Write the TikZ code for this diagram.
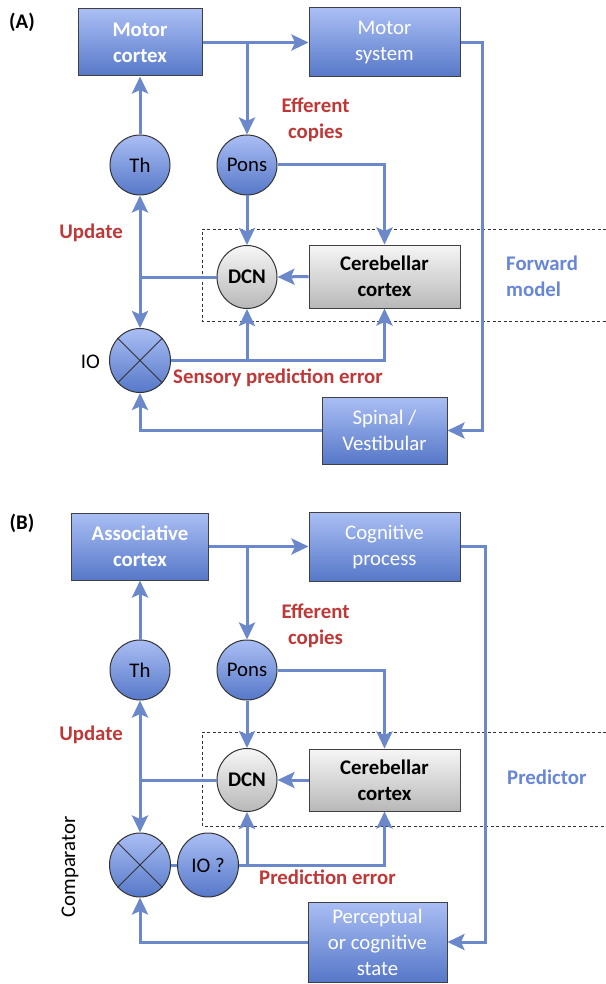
\documentclass[tikz,border=0pt]{standalone}
\usepackage{fontspec}
\setmainfont{Carlito}
\usetikzlibrary{arrows.meta,shapes.geometric}
\definecolor{boxtop}{RGB}{170,190,244}
\definecolor{boxbot}{RGB}{86,120,200}
\definecolor{greytop}{RGB}{246,246,246}
\definecolor{greybot}{RGB}{184,184,184}
\definecolor{wirecol}{RGB}{106,136,202}
\definecolor{errred}{RGB}{190,56,56}
\definecolor{fwdblue}{RGB}{104,134,214}
\newcommand{\bodyfont}{\fontsize{20.8}{26}\selectfont}
\newcommand{\modelframe}[2]{%
  \draw[black!80,line width=0.8pt,dash pattern=on 3pt off 2.5pt]
    (606,#1) -- (202,#1) -- (202,#2) -- (606,#2);
}

\begin{document}
\begin{tikzpicture}[x=1pt,y=-1pt,
  every node/.style={font=\bodyfont,inner sep=0pt},
  heavy/.style={font=\bodyfont\bfseries},
  bluebox/.style={rectangle,draw=black!75,line width=1pt,top color=boxtop,bottom color=boxbot,text=white,align=center},
  greybox/.style={rectangle,draw=black!75,line width=1pt,top color=greytop,bottom color=greybot,align=center,heavy},
  bluedot/.style={circle,draw=black!80,line width=1pt,top color=boxtop,bottom color=boxbot,minimum size=60pt},
  blueoval/.style={ellipse,draw=black!80,line width=1pt,top color=boxtop,bottom color=boxbot,minimum width=61pt,minimum height=64pt},
  greyoval/.style={ellipse,draw=black!80,line width=1pt,top color=greytop,bottom color=greybot,minimum width=60pt,minimum height=63pt,heavy},
  wireline/.style={draw=wirecol,line width=3pt},
  feed/.style={wireline,-{Stealth[length=17pt,width=16pt,inset=3.5pt]}},
  errlabel/.style={heavy,text=errred,align=center},
  modellabel/.style={heavy,text=fwdblue,align=left,anchor=west}
]
  \useasboundingbox (0,0) rectangle (605,984);
  \modelframe{229}{321}
  \modelframe{732}{826}

  % (A) motor loop
  \node[heavy] (tagA) at (22,22) {(A)};
  \node[bluebox,heavy,minimum width=124pt,minimum height=67pt] (mcA) at (140,42.5) {Motor\\cortex};
  \node[bluebox,minimum width=151pt,minimum height=69pt] (msA) at (384.5,42.5) {Motor\\system};
  \node[bluedot] (thA) at (140,165) {Th};
  \node[bluedot] (ponsA) at (247,165) {Pons};
  \node[errlabel] (effA) at (315.5,120) {Efferent\\copies};
  \node[errlabel] (updA) at (91,233) {Update};
  \node[greyoval] (dcnA) at (247,277) {DCN};
  \node[greybox,minimum width=151pt,minimum height=63pt] (ccA) at (384.5,276.5) {Cerebellar\\cortex};
  \node[modellabel] (fwdA) at (506,276) {Forward\\model};
  \node[blueoval] (ioA) at (140,360.5) {};
  \node (ioname) at (90.5,362) {IO};
  \node[errlabel,anchor=west] (speA) at (173,378) {Sensory prediction error};
  \node[bluebox,minimum width=125pt,minimum height=67pt] (spA) at (384.5,430.5) {Spinal /\\Vestibular};

  \draw[black!80,line width=1pt] (ioA.45) -- (ioA.225) (ioA.135) -- (ioA.315);
  \coordinate (jA) at (dcnA.west -| thA);
  \draw[feed] (mcA.east) -- (msA.west);
  \draw[feed] (mcA.east -| ponsA) -- (ponsA.north);
  \draw[feed] (thA.north) -- (mcA.south);
  \draw[feed] (ponsA.south) -- (dcnA.north);
  \draw[feed] (ponsA.east) -| (ccA.north);
  \draw[feed] (ccA.west) -- (dcnA.east);
  \draw[wireline] (dcnA.west) -- (jA);
  \draw[feed] (jA) -- (thA.south);
  \draw[feed] (jA) -- (ioA.north);
  \draw[feed] (ioA.east) -| (ccA.south);
  \draw[feed] (ioA.east -| dcnA) -- (dcnA.south);
  \draw[feed] (msA.east) -- ++(22,0) |- (spA.east);
  \draw[feed] (spA.west) -| (ioA.south);

  % (B) cognitive loop
  \node[heavy] (tagB) at (22,523) {(B)};
  \node[bluebox,heavy,minimum width=137pt,minimum height=67pt] (acB) at (140,546.5) {Associative\\cortex};
  \node[bluebox,minimum width=151pt,minimum height=69pt] (cpB) at (384.5,546.5) {Cognitive\\process};
  \node[bluedot] (thB) at (140,670) {Th};
  \node[bluedot] (ponsB) at (247,670) {Pons};
  \node[errlabel] (effB) at (315.5,625.5) {Efferent\\copies};
  \node[errlabel] (updB) at (91,735) {Update};
  \node[greyoval] (dcnB) at (247,780) {DCN};
  \node[greybox,minimum width=151pt,minimum height=62pt] (ccB) at (384.5,780) {Cerebellar\\cortex};
  \node[modellabel] (predB) at (507,777) {Predictor};
  \node[blueoval] (cmpB) at (140,865) {};
  \node[rotate=90] (cmpname) at (70,867) {Comparator};
  \node[blueoval] (ioB) at (208,865) {IO ?};
  \node[errlabel,anchor=west] (peB) at (259,877) {Prediction error};
  \node[bluebox,minimum width=139pt,minimum height=80pt] (pcB) at (377.5,942) {Perceptual\\or cognitive\\state};

  \draw[black!80,line width=1pt] (cmpB.45) -- (cmpB.225) (cmpB.135) -- (cmpB.315);
  \coordinate (jB) at (dcnB.west -| thB);
  \draw[feed] (acB.east) -- (cpB.west);
  \draw[feed] (acB.east -| ponsB) -- (ponsB.north);
  \draw[feed] (thB.north) -- (acB.south);
  \draw[feed] (ponsB.south) -- (dcnB.north);
  \draw[feed] (ponsB.east) -| (ccB.north);
  \draw[feed] (ccB.west) -- (dcnB.east);
  \draw[wireline] (dcnB.west) -- (jB);
  \draw[feed] (jB) -- (thB.south);
  \draw[feed] (jB) -- (cmpB.north);
  \draw[wireline] (cmpB.east) -- (ioB.west);
  \draw[feed] (ioB.east) -| (ccB.south);
  \draw[feed] (ioB.east -| dcnB) -- (dcnB.south);
  \draw[feed] (cpB.east) -- ++(25,0) |- (pcB.east);
  \draw[feed] (pcB.west) -| (cmpB.south);
\end{tikzpicture}
\end{document}
